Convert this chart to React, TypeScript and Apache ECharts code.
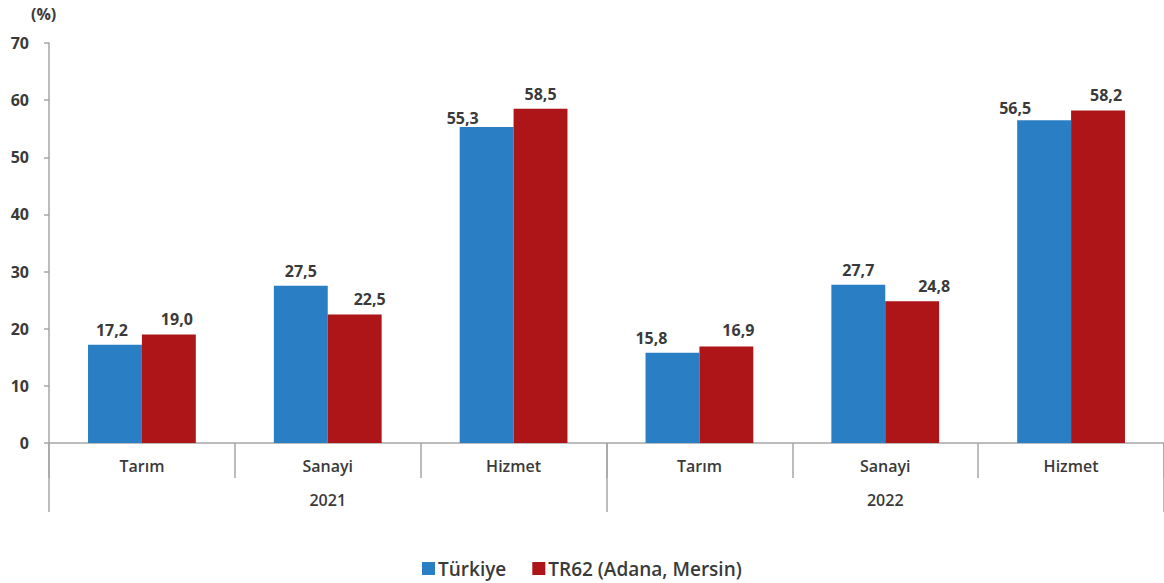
import React, { useEffect, useRef } from "react";
import * as echarts from "echarts";

const sectors = ["Tarım", "Sanayi", "Hizmet", "Tarım", "Sanayi", "Hizmet"];
const years = ["2021", "2022"];
const turkiye = [17.2, 27.5, 55.3, 15.8, 27.7, 56.5];
const tr62 = [19.0, 22.5, 58.5, 16.9, 24.8, 58.2];
const yTicks = [0, 10, 20, 30, 40, 50, 60, 70];
const seriesNames = ["Türkiye", "TR62 (Adana, Mersin)"];

// manual label nudges (like the original's hand-placed labels)
const turkiyeOffsets = [[-3, 0], [0, 0], [-24, 6], [-21, 0], [0, 0], [-29, 3]];
const tr62Offsets = [[8, 0], [15, 0], [0, 0], [12, -1], [22, 0], [8, 0]];

const TEXT = "#3a3a3a";
const AXIS = "#a6a6a6";
const FONT = "'Open Sans', 'Noto Sans', sans-serif";

export default function App() {
  const ref = useRef<HTMLDivElement>(null);
  useEffect(() => {
    if (!ref.current) return;
    const chart = echarts.init(ref.current, null, { renderer: "svg" });
    const fmt = (v: number) => v.toFixed(1).replace(".", ",");
    const mkData = (vals: number[], offs: number[][]) =>
      vals.map((v, i) => ({ value: v, label: { offset: offs[i] } }));
    const labelStyle = {
      show: true,
      position: "top",
      distance: 7,
      fontFamily: FONT,
      fontWeight: "bold",
      fontSize: 16,
      color: TEXT,
      formatter: (p: any) => fmt(p.value),
    };
    chart.setOption({
      animation: false,
      textStyle: { fontFamily: FONT },
      grid: { left: 49, width: 1119, top: 43, bottom: 140, containLabel: false },
      legend: {
        data: seriesNames,
        left: 417,
        top: 554,
        icon: "rect",
        itemWidth: 13,
        itemHeight: 13,
        itemGap: 26,
        itemStyle: { borderWidth: 0 },
        textStyle: { fontFamily: FONT, fontSize: 19, color: TEXT, fontWeight: 600, padding: [0, 0, 0, -2] },
      },
      graphic: [
        {
          type: "text",
          left: 31,
          top: 6,
          style: { text: "(%)", fontFamily: FONT, fontWeight: "bold", fontSize: 16, fill: TEXT },
        },
      ],
      xAxis: [
        {
          type: "category",
          data: sectors,
          position: "bottom",
          axisLine: { show: true, lineStyle: { color: AXIS, width: 1.5 } },
          axisTick: { show: true, interval: 0, length: 35, lineStyle: { color: AXIS, width: 1.5 } },
          axisLabel: {
            interval: 0,
            margin: 15,
            fontFamily: FONT,
            fontSize: 16,
            fontWeight: 600,
            color: TEXT,
          },
        },
        {
          type: "category",
          data: years,
          position: "bottom",
          axisLine: { show: false },
          axisTick: { show: true, interval: 0, length: 69, lineStyle: { color: AXIS, width: 1.5 } },
          axisLabel: {
            interval: 0,
            margin: 49,
            fontFamily: FONT,
            fontSize: 16,
            fontWeight: 600,
            color: TEXT,
          },
        },
      ],
      yAxis: {
        type: "value",
        min: yTicks[0],
        max: yTicks[yTicks.length - 1],
        interval: 10,
        splitLine: { show: false },
        axisLine: { show: true, lineStyle: { color: AXIS, width: 1.5 } },
        axisTick: { show: true, length: 5, lineStyle: { color: AXIS, width: 1.5 } },
        axisLabel: {
          margin: 20,
          fontFamily: FONT,
          fontSize: 16,
          fontWeight: "bold",
          color: TEXT,
        },
      },
      series: [
        {
          name: seriesNames[0],
          type: "bar",
          xAxisIndex: 0,
          data: mkData(turkiye, turkiyeOffsets),
          barGap: "0%",
          barCategoryGap: "42%",
          itemStyle: { color: "#2a7ec3" },
          label: labelStyle,
        },
        {
          name: seriesNames[1],
          type: "bar",
          xAxisIndex: 0,
          data: mkData(tr62, tr62Offsets),
          barGap: "0%",
          barCategoryGap: "42%",
          itemStyle: { color: "#ad1519" },
          label: labelStyle,
        },
      ],
    });
    return () => chart.dispose();
  }, []);
  return (
    <div
      ref={ref}
      style={{ position: "fixed", left: 0, top: 0, width: 1164, height: 583, background: "#fff" }}
    />
  );
}
